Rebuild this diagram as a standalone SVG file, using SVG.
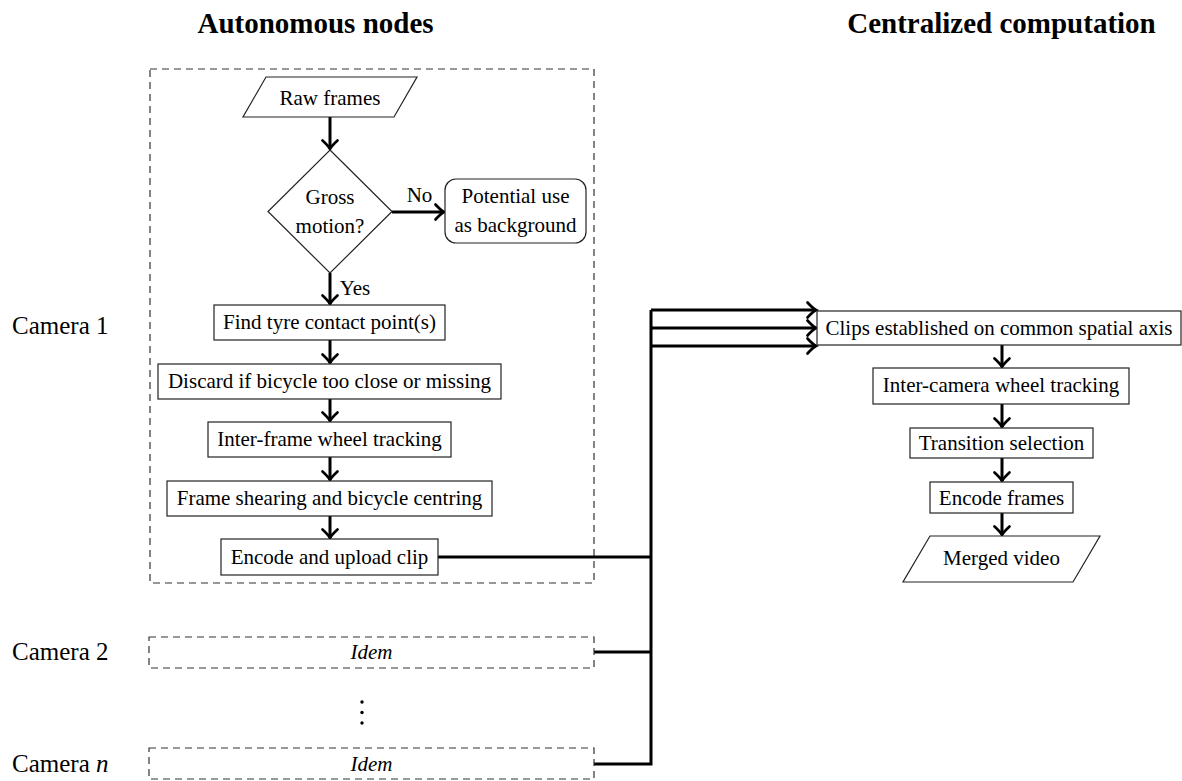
<svg xmlns="http://www.w3.org/2000/svg" width="1182" height="781" viewBox="0 0 1182 781">
<defs>
<style>
text{font-family:"Liberation Serif","Times New Roman",serif;fill:#000;}
.t{font-size:21px;text-anchor:middle;}
.title{font-size:29px;font-weight:bold;text-anchor:middle;}
.cam{font-size:25px;}
.box{fill:#fff;stroke:#222;stroke-width:1.2;}
.dash{fill:none;stroke:#333;stroke-width:1.2;stroke-dasharray:7,5;}
.conn{fill:none;stroke:#000;stroke-width:3;}
.arr{marker-end:url(#ah);}
</style>
<marker id="ah" markerUnits="userSpaceOnUse" markerWidth="20" markerHeight="20" viewBox="-10 -10 20 20" refX="0" refY="0" orient="auto" overflow="visible">
<path d="M -8.5,-7.5 Q -3,-1.5 0,0 Q -3,1.5 -8.5,7.5" fill="none" stroke="#000" stroke-width="2.7" stroke-linecap="round"/>
</marker>
</defs>
<rect width="1182" height="781" fill="#fff"/>

<g id="titles">
<text class="title" x="315.5" y="33">Autonomous nodes</text>
<text class="title" x="1001.5" y="33">Centralized computation</text>
</g>

<g id="camera-labels">
<text class="cam" x="12" y="334">Camera 1</text>
<text class="cam" x="12" y="660">Camera 2</text>
<text class="cam" x="12" y="772">Camera <tspan font-style="italic">n</tspan></text>
</g>

<g id="camera1-frame"><rect class="dash" x="150" y="69" width="444" height="514"/></g>

<g id="connectors">
<line class="conn arr" x1="330" y1="117" x2="330" y2="149"/>
<line class="conn arr" x1="392" y1="212" x2="444" y2="212"/>
<line class="conn arr" x1="330" y1="273" x2="330" y2="304"/>
<line class="conn arr" x1="330" y1="340" x2="330" y2="363"/>
<line class="conn arr" x1="330" y1="399" x2="330" y2="421"/>
<line class="conn arr" x1="330" y1="457" x2="330" y2="480"/>
<line class="conn arr" x1="330" y1="516" x2="330" y2="538"/>
<polyline class="conn" points="438,557 651,557"/>
<polyline class="conn" points="594,652 651,652"/>
<polyline class="conn" points="594,764 651,764 651,310"/>
<line class="conn arr" x1="651" y1="310" x2="816" y2="310"/>
<line class="conn arr" x1="651" y1="328" x2="816" y2="328"/>
<line class="conn arr" x1="651" y1="346" x2="816" y2="346"/>
<line class="conn arr" x1="1002" y1="345" x2="1002" y2="367"/>
<line class="conn arr" x1="1002" y1="404" x2="1002" y2="427"/>
<line class="conn arr" x1="1002" y1="458" x2="1002" y2="481"/>
<line class="conn arr" x1="1002" y1="513" x2="1002" y2="535"/>
<text class="t" x="419.5" y="202">No</text>
<text class="t" x="355" y="295">Yes</text>
</g>

<g id="raw-frames">
<polygon class="box" points="266,77 417,77 394,117 243,117"/>
<text class="t" x="330" y="105">Raw frames</text>
</g>

<g id="gross-motion">
<polygon class="box" points="330,150 392,211.5 330,273 268,211.5"/>
<text class="t" x="330" y="204">Gross</text>
<text class="t" x="330" y="233">motion?</text>
</g>

<g id="background">
<rect class="box" x="445" y="179" width="141" height="64" rx="11"/>
<text class="t" x="515.5" y="203">Potential use</text>
<text class="t" x="515.5" y="232">as background</text>
</g>

<g id="find-tyre">
<rect class="box" x="214" y="305" width="231" height="35"/>
<text class="t" x="329.5" y="329">Find tyre contact point(s)</text>
</g>

<g id="discard">
<rect class="box" x="158" y="364" width="343" height="35"/>
<text class="t" x="329.5" y="388">Discard if bicycle too close or missing</text>
</g>

<g id="inter-frame">
<rect class="box" x="208" y="422" width="243" height="35"/>
<text class="t" x="329.5" y="446">Inter-frame wheel tracking</text>
</g>

<g id="frame-shearing">
<rect class="box" x="167" y="481" width="325" height="35"/>
<text class="t" x="329.5" y="505">Frame shearing and bicycle centring</text>
</g>

<g id="encode-upload">
<rect class="box" x="221" y="539" width="217" height="36"/>
<text class="t" x="329.5" y="564">Encode and upload clip</text>
</g>

<g id="camera2">
<rect class="dash" x="149" y="637" width="445" height="31"/>
<text class="t" x="371.5" y="659" font-style="italic">Idem</text>
</g>

<g id="ellipsis">
<circle cx="362" cy="702" r="1.7" fill="#000"/>
<circle cx="362" cy="712.5" r="1.7" fill="#000"/>
<circle cx="362" cy="723" r="1.7" fill="#000"/>
</g>

<g id="cameraN">
<rect class="dash" x="149" y="748" width="445" height="31"/>
<text class="t" x="371.5" y="771" font-style="italic">Idem</text>
</g>

<g id="clips">
<rect class="box" x="817" y="311" width="364" height="34"/>
<text class="t" x="999" y="335">Clips established on common spatial axis</text>
</g>

<g id="inter-camera">
<rect class="box" x="873" y="368" width="256" height="36"/>
<text class="t" x="1001" y="392">Inter-camera wheel tracking</text>
</g>

<g id="transition">
<rect class="box" x="910" y="428" width="183" height="30"/>
<text class="t" x="1001.5" y="450">Transition selection</text>
</g>

<g id="encode-frames">
<rect class="box" x="930" y="482" width="143" height="31"/>
<text class="t" x="1001.5" y="505">Encode frames</text>
</g>

<g id="merged-video">
<polygon class="box" points="930,536 1100,536 1073,582 903,582"/>
<text class="t" x="1001.5" y="565">Merged video</text>
</g>
</svg>
